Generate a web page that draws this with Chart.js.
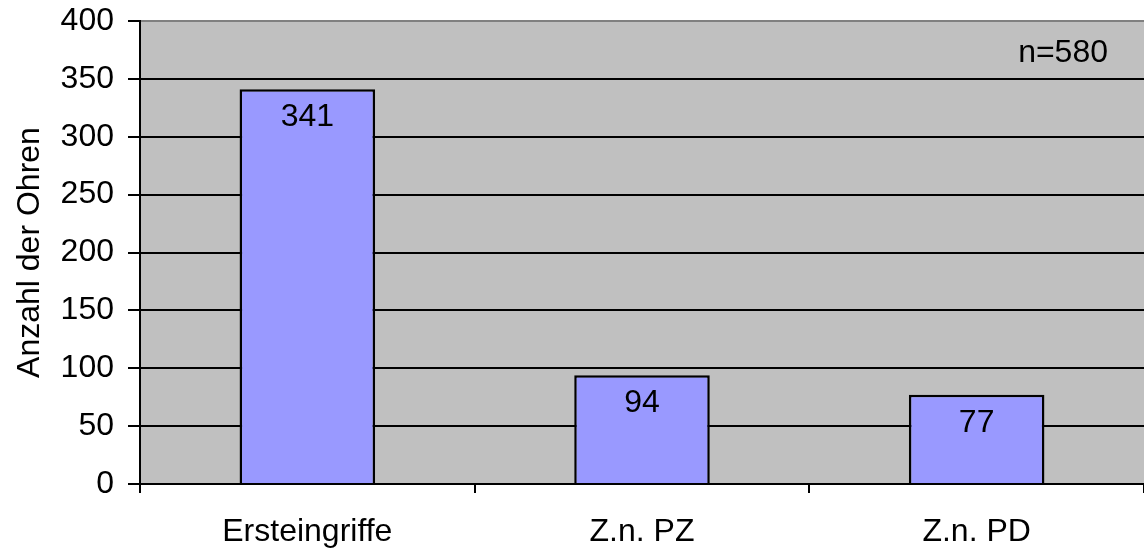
<!DOCTYPE html>
<html>
<head>
<meta charset="utf-8">
<script src="https://cdn.jsdelivr.net/npm/chart.js@4"></script>
<style>
  html, body { margin: 0; padding: 0; background: #fff; }
  #wrap { width: 1144px; height: 548px; }
</style>
</head>
<body>
<div id="wrap"><canvas id="chart"></canvas></div>
<script>
const categories = ["Ersteingriffe", "Z.n. PZ", "Z.n. PD"];
const values = [341, 94, 77];
const axisTitle = "Anzahl der Ohren";
const noteText = "n=580";

const FONT = "'Liberation Sans', Arial, sans-serif";
const FS = 32;

// ---------- BACKGROUND + NOTE ----------
const plotBg = {
  id: "plotBg",
  beforeDraw(chart) {
    const { ctx, chartArea: a } = chart;
    ctx.save();
    ctx.fillStyle = "#c0c0c0";
    ctx.fillRect(a.left, a.top, a.right - a.left, a.bottom - a.top);
    ctx.restore();
  },
  afterDraw(chart) {
    const { ctx, chartArea: a } = chart;
    ctx.save();
    ctx.font = FS + "px " + FONT;
    ctx.fillStyle = "#000";
    ctx.textAlign = "right";
    ctx.textBaseline = "middle";
    ctx.fillText(noteText, a.right - 36, a.top + 32);
    ctx.restore();
  }
};

// ---------- VALUE LABELS ----------
const barLabels = {
  id: "barLabels",
  afterDatasetsDraw(chart) {
    const { ctx } = chart;
    const meta = chart.getDatasetMeta(0);
    ctx.save();
    ctx.font = FS + "px " + FONT;
    ctx.fillStyle = "#000";
    ctx.textAlign = "center";
    ctx.textBaseline = "middle";
    meta.data.forEach((bar, i) => {
      ctx.fillText(values[i], bar.x, bar.y + 28);
    });
    ctx.restore();
  }
};

new Chart(document.getElementById("chart"), {
  type: "bar",
  data: {
    labels: categories,
    datasets: [{
      data: values,
      backgroundColor: "#9999ff",
      borderColor: "#000",
      borderWidth: 2.5,
      categoryPercentage: 1,
      barPercentage: 0.405
    }]
  },
  options: {
    responsive: true,
    maintainAspectRatio: false,
    animation: false,
    layout: { padding: { top: 21, right: 0, left: 0, bottom: 0 } },
    plugins: {
      legend: { display: false },
      tooltip: { enabled: false }
    },
    scales: {
      x: {
        grid: {
          drawOnChartArea: false,
          color: "#000",
          lineWidth: 2,
          tickLength: 9
        },
        border: { color: "#000", width: 2 },
        ticks: {
          color: "#000",
          font: { family: FONT, size: FS },
          padding: 20
        },
        afterFit(scale) {
          scale.height = 64;
          scale.paddingLeft = 0;
          scale.paddingRight = 0;
        }
      },
      y: {
        min: 0,
        max: 400,
        grid: {
          color: ctx => (ctx.tick && ctx.tick.value === 400 ? "#808080" : "#000"),
          tickColor: "#000",
          lineWidth: 2,
          tickLength: 12
        },
        border: { color: "#000", width: 2 },
        ticks: {
          stepSize: 50,
          color: "#000",
          font: { family: FONT, size: FS },
          padding: 14
        },
        title: {
          display: true,
          text: axisTitle,
          color: "#000",
          font: { family: FONT, size: FS },
          padding: { top: 11, bottom: 0 }
        },
        afterFit(scale) {
          scale.width = 140;
          scale.paddingTop = 0;
          scale.paddingBottom = 0;
        }
      }
    }
  },
  plugins: [plotBg, barLabels]
});
</script>
</body>
</html>
